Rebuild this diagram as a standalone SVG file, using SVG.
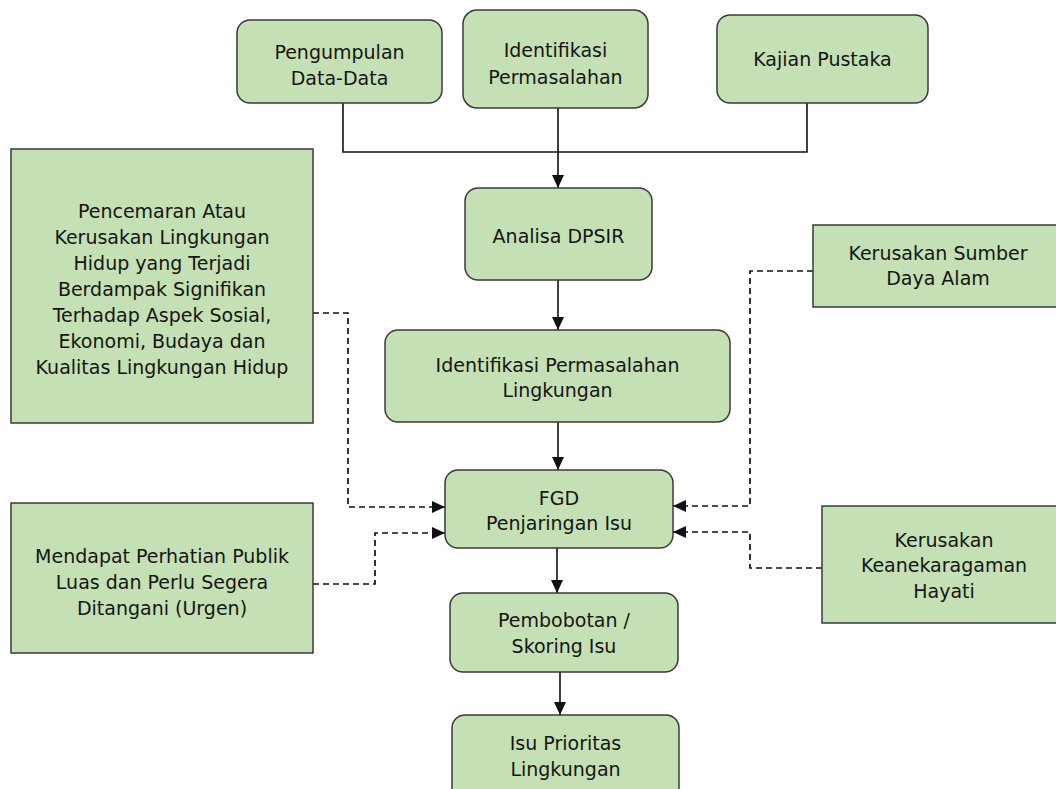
<svg xmlns="http://www.w3.org/2000/svg" width="1056" height="789" viewBox="0 0 1056 789">
<style>
.box{fill:#c5e0b4;stroke:#3a3a3a;stroke-width:1.5}
.t{font-family:"DejaVu Sans",Verdana,sans-serif;font-size:19px;fill:#151515;text-anchor:middle}
.solid{fill:none;stroke:#111;stroke-width:1.6}
.dash{fill:none;stroke:#111;stroke-width:1.7;stroke-dasharray:6 4}
</style>
<defs>
<marker id="ah" markerUnits="userSpaceOnUse" markerWidth="14" markerHeight="14" refX="13" refY="7" orient="auto" viewBox="0 0 14 14">
<path d="M0,1 L13,7 L0,13 z" fill="#111"/>
</marker>
</defs>
<rect width="1056" height="789" fill="#fff"/>
<g id="connectors">
<path class="solid" d="M343,103 V152 H807 V103"/>
<path class="solid" d="M558,108 V188" marker-end="url(#ah)"/>
<path class="solid" d="M558,280 V330" marker-end="url(#ah)"/>
<path class="solid" d="M558,422 V470" marker-end="url(#ah)"/>
<path class="solid" d="M557,548 V593" marker-end="url(#ah)"/>
<path class="solid" d="M560,672 V715" marker-end="url(#ah)"/>
<path class="dash" d="M313,313 H348 V507 H445" marker-end="url(#ah)"/>
<path class="dash" d="M313,584 H375 V533 H445" marker-end="url(#ah)"/>
<path class="dash" d="M813,271 H750 V506 H673" marker-end="url(#ah)"/>
<path class="dash" d="M822,568 H750 V532 H673" marker-end="url(#ah)"/>
</g>
<g id="n_pengumpulan">
<rect class="box" x="237" y="20" width="205" height="83" rx="13"/>
<text class="t" x="339.5" y="59">Pengumpulan</text>
<text class="t" x="339.5" y="85">Data-Data</text>
</g>
<g id="n_identifikasi">
<rect class="box" x="463" y="10" width="185" height="98" rx="14"/>
<text class="t" x="555.5" y="57">Identifikasi</text>
<text class="t" x="555.5" y="84">Permasalahan</text>
</g>
<g id="n_kajian">
<rect class="box" x="717" y="15" width="211" height="88" rx="13"/>
<text class="t" x="822.5" y="66">Kajian Pustaka</text>
</g>
<g id="n_analisa">
<rect class="box" x="465" y="188" width="187" height="92" rx="13"/>
<text class="t" x="558.5" y="243">Analisa DPSIR</text>
</g>
<g id="n_ipl">
<rect class="box" x="385" y="330" width="345" height="92" rx="13"/>
<text class="t" x="557.5" y="372">Identifikasi Permasalahan</text>
<text class="t" x="557.5" y="397">Lingkungan</text>
</g>
<g id="n_fgd">
<rect class="box" x="445" y="470" width="228" height="78" rx="13"/>
<text class="t" x="559" y="505">FGD</text>
<text class="t" x="559" y="530">Penjaringan Isu</text>
</g>
<g id="n_pembobotan">
<rect class="box" x="450" y="593" width="228" height="79" rx="13"/>
<text class="t" x="564" y="627">Pembobotan /</text>
<text class="t" x="564" y="653">Skoring Isu</text>
</g>
<g id="n_isu">
<rect class="box" x="452" y="715" width="227" height="90" rx="13"/>
<text class="t" x="565.5" y="750">Isu Prioritas</text>
<text class="t" x="565.5" y="776">Lingkungan</text>
</g>
<g id="n_pencemaran">
<rect class="box" x="11" y="149" width="302" height="274"/>
<text class="t" x="162" y="218">Pencemaran Atau</text>
<text class="t" x="162" y="244">Kerusakan Lingkungan</text>
<text class="t" x="162" y="270">Hidup yang Terjadi</text>
<text class="t" x="162" y="296">Berdampak Signifikan</text>
<text class="t" x="162" y="322">Terhadap Aspek Sosial,</text>
<text class="t" x="162" y="348">Ekonomi, Budaya dan</text>
<text class="t" x="162" y="374">Kualitas Lingkungan Hidup</text>
</g>
<g id="n_mendapat">
<rect class="box" x="11" y="503" width="302" height="150"/>
<text class="t" x="162" y="563">Mendapat Perhatian Publik</text>
<text class="t" x="162" y="589">Luas dan Perlu Segera</text>
<text class="t" x="162" y="615">Ditangani (Urgen)</text>
</g>
<g id="n_sda">
<rect class="box" x="813" y="225" width="252" height="82"/>
<text class="t" x="938" y="260">Kerusakan Sumber</text>
<text class="t" x="938" y="285">Daya Alam</text>
</g>
<g id="n_hayati">
<rect class="box" x="822" y="506" width="246" height="117"/>
<text class="t" x="944" y="547">Kerusakan</text>
<text class="t" x="944" y="572">Keanekaragaman</text>
<text class="t" x="944" y="598">Hayati</text>
</g>
</svg>
